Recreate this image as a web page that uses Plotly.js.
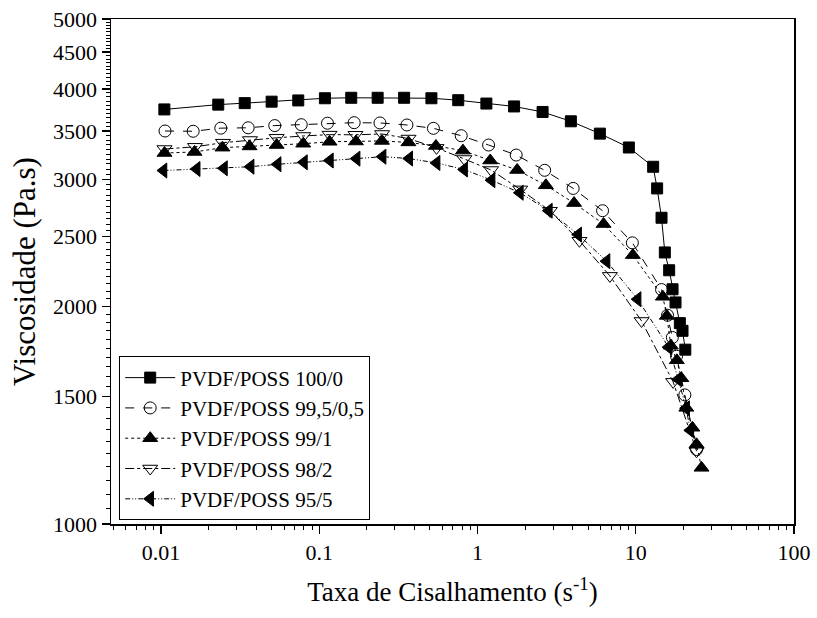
<!DOCTYPE html>
<html>
<head>
<meta charset="utf-8">
<script src="https://cdn.plot.ly/plotly-3.0.1.min.js"></script>
<style>html,body{margin:0;padding:0;background:#fff;}#chart{width:817px;height:618px;}</style>
</head>
<body>
<div id="chart"></div>
<script>
// Series: PVDF/POSS 100/0
const x100 = [0.0105,0.0230,0.0338,0.0500,0.0737,0.1086,0.1593,0.2339,0.3438,0.5114,0.7553,1.138,1.703,2.578,3.890,5.933,9.045,12.88,13.65,14.55,15.27,16.26,17.08,17.84,18.99,19.75,20.57];
const y100 = [3748,3806,3824,3842,3857,3884,3890,3890,3890,3884,3860,3819,3784,3718,3609,3470,3320,3122,2914,2654,2376,2245,2113,2026,1897,1851,1743];
// Series: PVDF/POSS 99,5/0,5
const x995 = [0.0106,0.01597,0.02386,0.03555,0.05234,0.07695,0.1127,0.1662,0.2418,0.3581,0.5265,0.7889,1.175,1.756,2.657,4.022,6.170,9.517,14.55,15.88,17.03,18.10,20.43,24.22];
const y995 = [3499,3496,3531,3535,3560,3570,3587,3593,3590,3567,3529,3447,3346,3241,3087,2914,2714,2450,2111,1945,1812,1707,1509,1268];
// Series: PVDF/POSS 99/1
const x991 = [0.01052,0.01628,0.02446,0.03628,0.05381,0.07922,0.1162,0.1705,0.2489,0.3661,0.5461,0.8089,1.203,1.781,2.705,4.075,6.260,9.587,14.83,15.72,16.66,18.18,19.42,20.87,22.79,24.22,26.04];
const y991 = [3262,3273,3318,3331,3346,3360,3381,3384,3390,3374,3336,3287,3185,3090,2943,2781,2601,2356,2063,1941,1765,1685,1591,1448,1359,1289,1196];
// Series: PVDF/POSS 98/2
const x982 = [0.01052,0.01640,0.02464,0.03649,0.05381,0.07922,0.1162,0.1693,0.2496,0.3666,0.5508,0.8266,1.219,1.861,2.867,4.410,6.861,10.88,17.23,24.22];
const y982 = [3304,3327,3371,3400,3424,3444,3459,3457,3466,3416,3316,3200,3090,2905,2714,2466,2205,1910,1573,1261];
// Series: PVDF/POSS 95/5
const x955 = [0.01037,0.01681,0.0250,0.03686,0.05460,0.08005,0.1168,0.1723,0.2515,0.3704,0.5516,0.8230,1.228,1.853,2.826,4.327,6.540,10.28,16.14,18.58,20.82,22.13];
const y955 = [3085,3100,3107,3123,3147,3167,3185,3204,3224,3205,3160,3095,2991,2874,2714,2515,2311,2047,1757,1586,1446,1348];

const seriesNames = ['PVDF/POSS 100/0','PVDF/POSS 99,5/0,5','PVDF/POSS 99/1','PVDF/POSS 98/2','PVDF/POSS 95/5'];

const xTickVals = [0.01,0.1,1,10,100];
const xTickText = ['0.01','0.1','1','10','100'];
const yTickVals = [1000,1500,2000,2500,3000,3500,4000,4500,5000];
const yTickText = ['1000','1500','2000','2500','3000','3500','4000','4500','5000'];

// minor tick positions
const xMinor = [];
[0.001,0.01,0.1,1,10].forEach(d=>{for(let k=2;k<=9;k++){xMinor.push(k*d);}});
const yMinor = [];
for(let v=1050; v<5000; v+=50){ if(v%500!==0) yMinor.push(v); }

const FONT = '"Liberation Serif", "Times New Roman", Times, serif';

function tr(x,y,name,symbol,dash,size){
  return {x:x,y:y,name:name,type:'scatter',mode:'lines+markers',
    line:{color:'#000',width:1,dash:dash},
    marker:{symbol:symbol,size:size,color:'#000',line:{color:'#000',width:1}}};
}
const data = [
  tr(x100,y100,seriesNames[0],'square','solid',11),
  tr(x995,y995,seriesNames[1],'circle-open','dash',12),
  tr(x991,y991,seriesNames[2],'triangle-up','dot',13),
  tr(x982,y982,seriesNames[3],'triangle-down-open','dashdot',13),
  tr(x955,y955,seriesNames[4],'triangle-left','5px,2px,1px,2px,1px,2px',13)
];

const layout = {
  width:817, height:618,
  margin:{l:111,r:23,t:19,b:93.5},
  paper_bgcolor:'#fff', plot_bgcolor:'#fff',
  font:{family:FONT,color:'#000',size:22},
  showlegend:true,
  legend:{x:0.012,y:0.007,xanchor:'left',yanchor:'bottom',bordercolor:'#000',borderwidth:1,
    bgcolor:'#fff',font:{family:FONT,size:21,color:'#000'},tracegroupgap:0,itemwidth:50,
    entrywidth:220,entrywidthmode:'pixels'},
  xaxis:{type:'log',range:[-2.316,2],showline:true,mirror:true,linecolor:'#000',linewidth:1.5,
    showgrid:false,zeroline:false,ticks:'outside',ticklen:8,tickwidth:1.2,tickcolor:'#000',
    tickmode:'array',tickvals:xTickVals,ticktext:xTickText,tickfont:{family:FONT,size:22},
    minor:{tickmode:'array',tickvals:xMinor,ticks:'outside',ticklen:4,tickwidth:1,tickcolor:'#000',showgrid:false},
    title:{text:'Taxa de Cisalhamento (s<sup>-1</sup>)',font:{family:FONT,size:27},standoff:18}},
  yaxis:{type:'log',range:[3,Math.log10(5000)],showline:true,mirror:true,linecolor:'#000',linewidth:1.5,
    showgrid:false,zeroline:false,ticks:'outside',ticklen:8,tickwidth:1.2,tickcolor:'#000',
    tickmode:'array',tickvals:yTickVals,ticktext:yTickText,tickfont:{family:FONT,size:22},
    minor:{tickmode:'array',tickvals:yMinor,ticks:'outside',ticklen:4,tickwidth:1,tickcolor:'#000',showgrid:false},
    title:{text:'Viscosidade (Pa.s)',font:{family:FONT,size:31},standoff:8}}
};
Plotly.newPlot('chart',data,layout,{displayModeBar:false,staticPlot:true});
</script>
</body>
</html>
